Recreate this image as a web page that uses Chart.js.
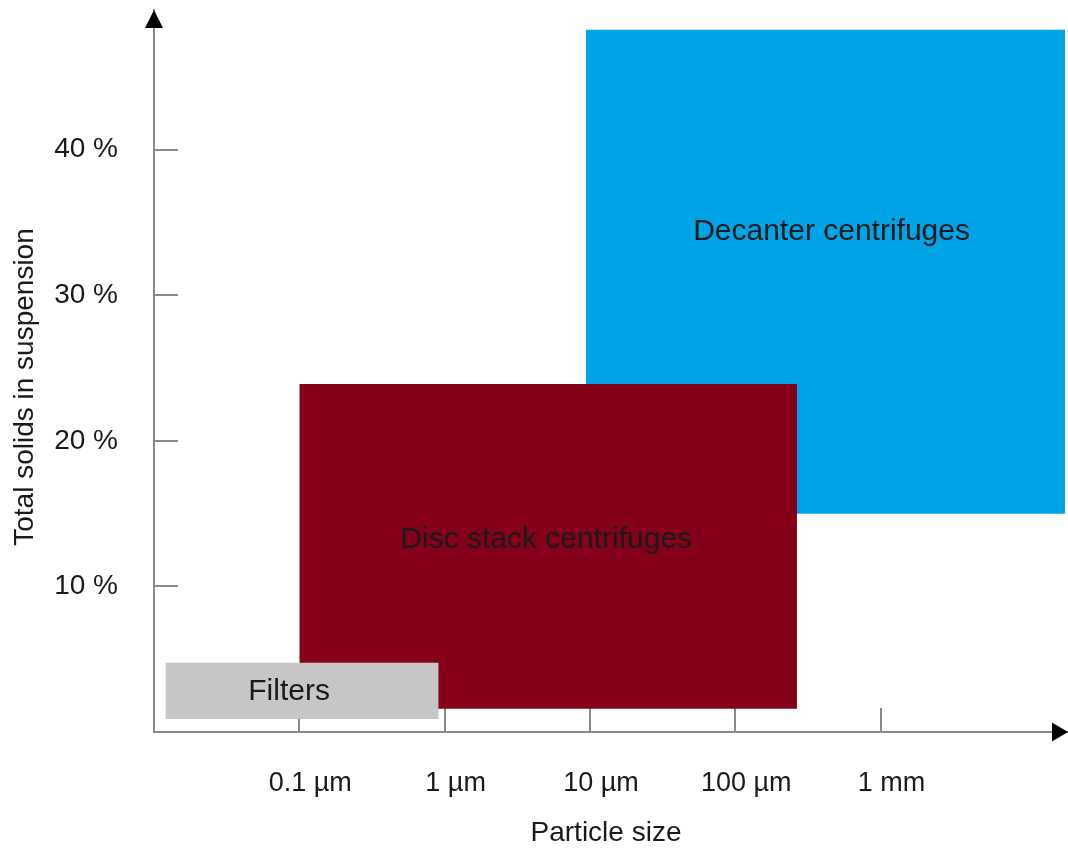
<!DOCTYPE html>
<html>
<head>
<meta charset="utf-8">
<script src="https://cdn.jsdelivr.net/npm/chart.js@4/dist/chart.umd.min.js"></script>
<style>
  body { margin: 0; background: #fff; }
  canvas { display: block; }
</style>
</head>
<body>
<canvas id="chart" width="1068" height="850"></canvas>
<script>
// Separation ranges, particle size in µm (log axis), solids in %
const boxNames = ["Filters", "Disc stack centrifuges", "Decanter centrifuges"];
const sizeFrom = [0.012, 0.1, 9.4];
const sizeTo = [0.91, 266, 18600];
const solidsFrom = [0.9, 1.6, 15.0];
const solidsTo = [4.75, 23.9, 48.25];
const boxColors = ["#c6c6c6", "#850019", "#00a3e6"];

// where the box captions sit
const captionSize = [0.085, 5.0, 460];
const captionSolids = [2.75, 13.2, 34.4];

const xTickValues = [0.1, 1, 10, 100, 1000];
const xTickLabels = ["0.1 µm", "1 µm", "10 µm", "100 µm", "1 mm"];
const yTickValues = [10, 20, 30, 40];
const yTickLabels = ["10 %", "20 %", "30 %", "40 %"];

const FONT = '"Liberation Sans", Arial, sans-serif';
const AXIS_GREY = "#8a8a8a";
const TEXT = "#1a1a1a";

// each box = top edge filled down to its bottom edge
const datasets = [];
boxNames.forEach((name, i) => {
  datasets.push({
    label: name,
    data: [{ x: sizeFrom[i], y: solidsTo[i] }, { x: sizeTo[i], y: solidsTo[i] }],
    backgroundColor: boxColors[i],
    borderWidth: 0,
    pointRadius: 0,
    fill: "+1",
  });
  datasets.push({
    label: name + " bottom",
    data: [{ x: sizeFrom[i], y: solidsFrom[i] }, { x: sizeTo[i], y: solidsFrom[i] }],
    borderWidth: 0,
    pointRadius: 0,
    fill: false,
  });
});

// tick padding would otherwise push the plot area in
function noScalePadding(s) {
  s.paddingTop = 0;
  s.paddingBottom = 0;
  s.paddingLeft = 0;
  s.paddingRight = 0;
}

const decor = {
  id: "decor",
  afterDatasetsDraw(chart) {
    const { ctx, scales: { x, y } } = chart;
    ctx.save();
    ctx.fillStyle = TEXT;
    ctx.font = `30px ${FONT}`;
    ctx.textAlign = "center";
    ctx.textBaseline = "middle";
    boxNames.forEach((name, i) => {
      ctx.fillText(name, x.getPixelForValue(captionSize[i]), y.getPixelForValue(captionSolids[i]));
    });
    ctx.restore();
  },
  afterDraw(chart) {
    const { ctx, chartArea: a } = chart;
    ctx.save();
    ctx.fillStyle = "#000";
    // y arrow
    ctx.beginPath();
    ctx.moveTo(a.left, a.top);
    ctx.lineTo(a.left - 9, a.top + 18);
    ctx.lineTo(a.left + 9, a.top + 18);
    ctx.closePath();
    ctx.fill();
    // x arrow
    ctx.beginPath();
    ctx.moveTo(a.right, a.bottom);
    ctx.lineTo(a.right - 16, a.bottom - 9.5);
    ctx.lineTo(a.right - 16, a.bottom + 9.5);
    ctx.closePath();
    ctx.fill();

    // axis titles
    ctx.fillStyle = TEXT;
    ctx.font = `28px ${FONT}`;
    ctx.textAlign = "center";
    ctx.textBaseline = "middle";
    ctx.fillText("Particle size", 606, 833);
    ctx.translate(25, 387);
    ctx.rotate(-Math.PI / 2);
    ctx.fillText("Total solids in suspension", 0, 0);
    ctx.restore();
  }
};

new Chart(document.getElementById("chart"), {
  type: "line",
  data: { datasets },
  options: {
    responsive: false,
    animation: false,
    layout: { padding: { top: 10, left: 0, right: 0, bottom: 0 } },
    plugins: {
      legend: { display: false },
      tooltip: { enabled: false },
      filler: { propagate: false }
    },
    scales: {
      x: {
        type: "logarithmic",
        min: 0.01,
        max: Math.pow(10, 4.29),
        afterBuildTicks: s => { s.ticks = xTickValues.map(v => ({ value: v })); },
        afterFit: s => { s.height = 850 - 732; noScalePadding(s); },
        ticks: {
          callback: (v, i) => xTickLabels[i],
          autoSkip: false,
          maxRotation: 0,
          padding: 59,
          labelOffset: 11,
          color: TEXT,
          font: { family: FONT, size: 27 }
        },
        grid: { drawOnChartArea: false, drawTicks: true, tickLength: -24, color: AXIS_GREY, lineWidth: 2 },
        border: { display: true, color: AXIS_GREY, width: 2 }
      },
      y: {
        type: "linear",
        min: 0,
        max: 49.6,
        afterBuildTicks: s => { s.ticks = yTickValues.map(v => ({ value: v })); },
        afterFit: s => { s.width = 154; noScalePadding(s); },
        ticks: {
          callback: (v, i) => yTickLabels[i],
          autoSkip: false,
          padding: 60,
          color: TEXT,
          font: { family: FONT, size: 28 }
        },
        grid: { drawOnChartArea: false, drawTicks: true, tickLength: -24, color: AXIS_GREY, lineWidth: 2 },
        border: { display: true, color: AXIS_GREY, width: 2 }
      }
    }
  },
  plugins: [decor]
});
</script>
</body>
</html>
